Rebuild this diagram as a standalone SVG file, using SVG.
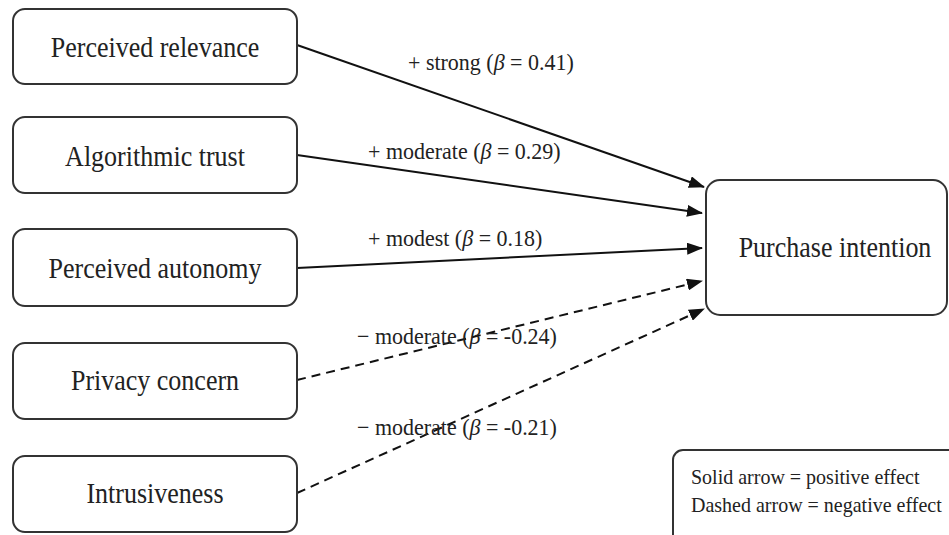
<svg xmlns="http://www.w3.org/2000/svg" width="949" height="535" viewBox="0 0 949 535">
  <style>
    .node rect { fill: #ffffff; stroke: #333333; stroke-width: 2; }
    .node text { font-family: "Liberation Serif", "Times New Roman", serif; font-size: 26px; fill: #222222; text-anchor: middle; }
    .edge { stroke: #111111; stroke-width: 2; fill: none; marker-end: url(#head); }
    .neg { stroke-dasharray: 9 6; }
    .lbl { font-family: "Liberation Serif", "Times New Roman", serif; font-size: 22px; fill: #222222; }
    .legend rect { fill: #ffffff; stroke: #333333; stroke-width: 2; }
    .legend text { font-family: "Liberation Serif", "Times New Roman", serif; font-size: 20px; fill: #222222; }
  </style>
  <defs>
    <marker id="head" markerUnits="userSpaceOnUse" markerWidth="16" markerHeight="12" refX="15" refY="6" orient="auto">
      <path d="M0,0 L16,6 L0,12 Z" fill="#111111"/>
    </marker>
  </defs>
  <rect width="949" height="535" fill="#ffffff"/>

  <!-- connectors with their effect labels -->
  <g id="connectors">
    <line class="edge" x1="297" y1="45" x2="704" y2="187"/>
    <line class="edge" x1="297" y1="155" x2="702" y2="213"/>
    <line class="edge" x1="297" y1="268" x2="702" y2="248"/>
    <line class="edge neg" x1="297" y1="380" x2="702" y2="281"/>
    <line class="edge neg" x1="297" y1="493" x2="704" y2="309"/>
    <text class="lbl" transform="translate(408,70) scale(1,1.08)">+ strong (<tspan font-style="italic">β</tspan> = 0.41)</text>
    <text class="lbl" transform="translate(368,159) scale(1,1.08)">+ moderate (<tspan font-style="italic">β</tspan> = 0.29)</text>
    <text class="lbl" transform="translate(368,246) scale(1,1.08)">+ modest (<tspan font-style="italic">β</tspan> = 0.18)</text>
    <text class="lbl" transform="translate(357,344) scale(1,1.08)">− moderate (<tspan font-style="italic">β</tspan> = -0.24)</text>
    <text class="lbl" transform="translate(357,435) scale(1,1.08)">− moderate (<tspan font-style="italic">β</tspan> = -0.21)</text>
  </g>

  <!-- predictor nodes -->
  <g id="perceived-relevance" class="node">
    <rect x="13" y="9" width="284" height="75" rx="12"/>
    <text transform="translate(155,57) scale(1,1.12)">Perceived relevance</text>
  </g>
  <g id="algorithmic-trust" class="node">
    <rect x="13" y="117" width="284" height="76" rx="12"/>
    <text transform="translate(155,166) scale(1,1.12)">Algorithmic trust</text>
  </g>
  <g id="perceived-autonomy" class="node">
    <rect x="13" y="229" width="284" height="77" rx="12"/>
    <text transform="translate(155,278) scale(1,1.12)">Perceived autonomy</text>
  </g>
  <g id="privacy-concern" class="node">
    <rect x="13" y="343" width="284" height="76" rx="12"/>
    <text transform="translate(155,390) scale(1,1.12)">Privacy concern</text>
  </g>
  <g id="intrusiveness" class="node">
    <rect x="13" y="456" width="284" height="76" rx="12"/>
    <text transform="translate(155,503) scale(1,1.12)">Intrusiveness</text>
  </g>

  <!-- outcome node -->
  <g id="purchase-intention" class="node">
    <rect x="706" y="180" width="241" height="135" rx="14"/>
    <text transform="translate(835,257) scale(1,1.12)">Purchase intention</text>
  </g>

  <!-- legend -->
  <g id="legend" class="legend">
    <rect x="673" y="450" width="300" height="100" rx="10"/>
    <text transform="translate(691,484) scale(1,1.1)">Solid arrow = positive effect</text>
    <text transform="translate(691,512) scale(1,1.1)">Dashed arrow = negative effect</text>
  </g>
</svg>
